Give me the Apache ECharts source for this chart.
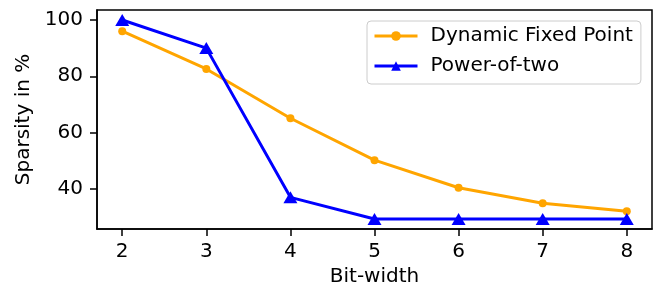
<!DOCTYPE html>
<html>
<head>
    <meta charset="utf-8">
    <title>Sparsity vs bit-width</title>
    <script src="https://cdn.jsdelivr.net/npm/echarts@6/dist/echarts.min.js"></script>
    <style>
        body { margin: 0; background: #fff; }
    </style>
</head>
<body>
    <div id="chart" style="width: 661px;height:292px;"></div>
    <script type="text/javascript">
        var bitWidths = [2, 3, 4, 5, 6, 7, 8];
        var dynamicFixed = [96, 82.6, 65.1, 50.2, 40.4, 34.9, 32.1];
        var powerOfTwo = [100, 90, 37, 29.3, 29.3, 29.3, 29.3];
        var yTicks = [40, 60, 80, 100];

        var font = 'DejaVu Sans';

        function pairs(ys) {
            return bitWidths.map(function (x, i) { return [x, ys[i]]; });
        }

        var chart = echarts.init(document.getElementById('chart'));

        var option = {
            animation: false,
            textStyle: { fontFamily: font },
            grid: {
                left: 97,
                right: 9,
                top: 10,
                bottom: 62,
                show: true,
                borderColor: '#000',
                borderWidth: 1.5,
                backgroundColor: '#fff'
            },
            legend: {
                orient: 'vertical',
                left: 367,
                top: 21,
                padding: [5, 8, 8, 6],
                itemWidth: 43,
                itemHeight: 12,
                itemGap: 10,
                borderColor: '#cccccc',
                borderWidth: 1,
                borderRadius: 4,
                backgroundColor: 'rgba(255,255,255,0.8)',
                lineStyle: { width: 3 },
                textStyle: {
                    fontFamily: font,
                    fontSize: 20,
                    color: '#000',
                    padding: [0, 0, 0, 8]
                },
                data: ['Dynamic Fixed Point', 'Power-of-two']
            },
            xAxis: {
                type: 'value',
                min: 1.7,
                max: 8.3,
                name: 'Bit-width',
                nameLocation: 'middle',
                nameGap: 38,
                nameTextStyle: { fontFamily: font, fontSize: 20, color: '#000' },
                splitLine: { show: false },
                axisLine: { lineStyle: { color: '#000', width: 1.5 } },
                axisTick: {
                    length: 7,
                    lineStyle: { color: '#000', width: 1.5 },
                    customValues: bitWidths
                },
                axisLabel: {
                    margin: 13,
                    fontFamily: font,
                    fontSize: 20,
                    color: '#000',
                    customValues: bitWidths
                }
            },
            yAxis: {
                type: 'value',
                min: 25.76,
                max: 103.54,
                name: 'Sparsity in %',
                nameLocation: 'middle',
                nameGap: 57,
                nameTextStyle: { fontFamily: font, fontSize: 20, color: '#000' },
                splitLine: { show: false },
                axisLine: { show: true, lineStyle: { color: '#000', width: 1.5 } },
                axisTick: {
                    show: true,
                    length: 7,
                    lineStyle: { color: '#000', width: 1.5 },
                    customValues: yTicks
                },
                axisLabel: {
                    margin: 14,
                    fontFamily: font,
                    fontSize: 20,
                    color: '#000',
                    customValues: yTicks
                }
            },
            series: [
                {
                    name: 'Dynamic Fixed Point',
                    type: 'line',
                    data: pairs(dynamicFixed),
                    color: '#ffa500',
                    symbol: 'circle',
                    symbolSize: 8,
                    lineStyle: { width: 3, color: '#ffa500' },
                    itemStyle: { color: '#ffa500' }
                },
                {
                    name: 'Power-of-two',
                    type: 'line',
                    data: pairs(powerOfTwo),
                    color: '#0000ff',
                    symbol: 'triangle',
                    symbolSize: [14, 12],
                    lineStyle: { width: 3, color: '#0000ff' },
                    itemStyle: { color: '#0000ff' }
                }
            ]
        };

        chart.setOption(option);
    </script>
</body>
</html>
